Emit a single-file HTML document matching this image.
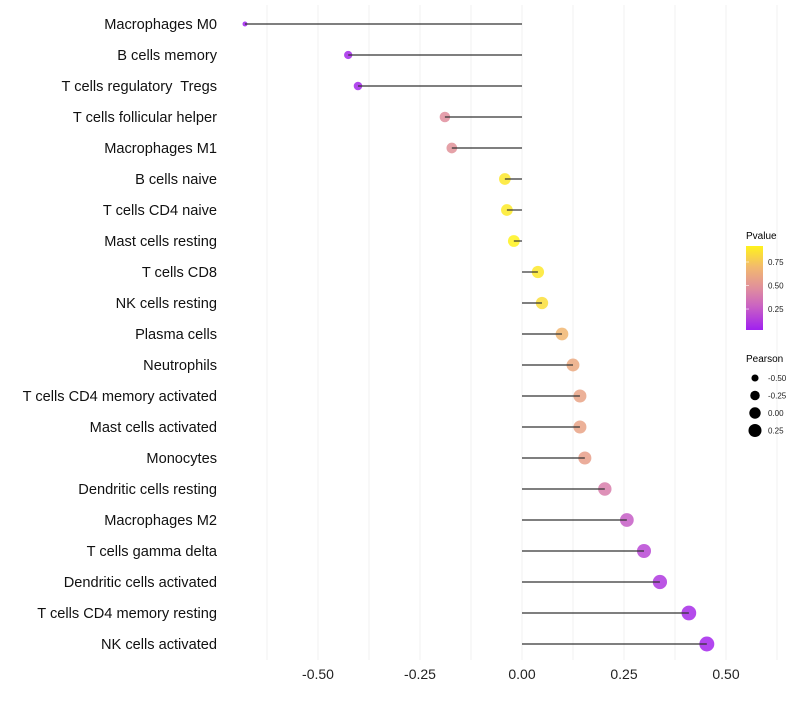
<!DOCTYPE html>
<html><head><meta charset="utf-8"><style>
body{margin:0;background:#fff;font-family:"Liberation Sans",sans-serif}
text{white-space:pre}
</style></head><body>
<svg id="chart" width="800" height="700" xmlns="http://www.w3.org/2000/svg" font-family="Liberation Sans, sans-serif">
<defs><linearGradient id="pg" x1="0" y1="1" x2="0" y2="0">
<stop offset="0" stop-color="#a020f0"/><stop offset="0.3" stop-color="#cc66c0"/><stop offset="0.5" stop-color="#e08f9c"/><stop offset="0.75" stop-color="#f2b96e"/><stop offset="1" stop-color="#fff21c"/>
</linearGradient></defs>
<g id="grid"></g>
<g id="marks"></g>
<g id="labels"></g>
<g>
<text x="746" y="239" font-size="10">Pvalue</text>
<rect x="746" y="246" width="17" height="84" fill="url(#pg)"/>
<g id="cbticks"></g>
</g>
<g id="sizeleg">
<text x="746" y="362" font-size="10">Pearson</text>
</g>
</svg>
<script>
const categories=["Macrophages M0","B cells memory","T cells regulatory  Tregs","T cells follicular helper","Macrophages M1","B cells naive","T cells CD4 naive","Mast cells resting","T cells CD8","NK cells resting","Plasma cells","Neutrophils","T cells CD4 memory activated","Mast cells activated","Monocytes","Dendritic cells resting","Macrophages M2","T cells gamma delta","Dendritic cells activated","T cells CD4 memory resting","NK cells activated"];
const pearson=[-0.679,-0.426,-0.402,-0.189,-0.172,-0.042,-0.037,-0.020,0.039,0.049,0.098,0.125,0.142,0.142,0.154,0.203,0.257,0.299,0.338,0.409,0.453];
const pvalue=[0.03,0.06,0.06,0.47,0.49,0.88,0.89,0.92,0.88,0.84,0.68,0.61,0.58,0.58,0.56,0.40,0.26,0.18,0.12,0.07,0.05];
const xTicks=[-0.5,-0.25,0,0.25,0.5];
const xTickLabels=["-0.50","-0.25","0.00","0.25","0.50"];
const cbTicks=[0.25,0.5,0.75];
const cbTickLabels=["0.25","0.50","0.75"];
const sizeLegend=[-0.5,-0.25,0,0.25];
const sizeLegendLabels=["-0.50","-0.25","0.00","0.25"];
const NS="http://www.w3.org/2000/svg";
const x=v=>522+v*408;
const y=i=>24+i*31;
const r=v=>Math.sqrt(Math.max(2.5,36+44*v));
const pMin=0.027,pMax=0.92;
const cbY=p=>330-(p-pMin)/(pMax-pMin)*84;
const stops=[[0,[160,32,240]],[0.3,[204,102,192]],[0.5,[224,143,156]],[0.75,[242,185,110]],[1,[255,242,28]]];
function col(p){let t=Math.min(1,Math.max(0,(p-pMin)/(pMax-pMin)));for(let k=1;k<stops.length;k++){if(t<=stops[k][0]){const a=stops[k-1],b=stops[k],f=(t-a[0])/(b[0]-a[0]);return "rgb("+a[1].map((c,j)=>Math.round(c+(b[1][j]-c)*f)).join(",")+")";}}return "rgb(255,242,28)";}
function mk(tag,attrs,parent,txt){const e=document.createElementNS(NS,tag);for(const k in attrs)e.setAttribute(k,attrs[k]);if(txt!==undefined)e.textContent=txt;parent.appendChild(e);return e;}
const grid=document.getElementById('grid'),marks=document.getElementById('marks'),labels=document.getElementById('labels');
for(let v=-0.625;v<=0.626;v+=0.125){const g=mk('line',{x1:x(v),x2:x(v),y1:5,y2:660,stroke:'#f0f0f0','stroke-width':1},grid);

}
xTicks.forEach((v,i)=>{const t=mk('text',{x:x(v),y:679,'font-size':14,'text-anchor':'middle',fill:'#222'},labels,xTickLabels[i]);

});
categories.forEach((c,i)=>{
const t=mk('text',{x:217,y:y(i)+5,'font-size':14.6,'text-anchor':'end',fill:'#111'},labels,c);


const p=mk('circle',{cx:x(pearson[i]),cy:y(i),r:r(pearson[i]),fill:col(pvalue[i]),'fill-opacity':0.85},marks);


const s=mk('line',{x1:x(0),x2:x(pearson[i]),y1:y(i),y2:y(i),stroke:'#333','stroke-width':1.2},marks);

});
const cbt=document.getElementById('cbticks');
cbTicks.forEach((v,i)=>{const t=mk('text',{x:768,y:cbY(v)+3,'font-size':8,fill:'#222'},cbt,cbTickLabels[i]);


const l=mk('line',{x1:746,x2:749,y1:cbY(v),y2:cbY(v),stroke:'#fff','stroke-width':0.6},cbt);

});
const sl=document.getElementById('sizeleg');
sizeLegend.forEach((v,i)=>{const cy=378+i*17.5;
const c=mk('circle',{cx:755,cy:cy,r:r(v)*0.95,fill:'#000'},sl);


const t=mk('text',{x:768,y:cy+3,'font-size':8,fill:'#222'},sl,sizeLegendLabels[i]);

});
</script>
</body></html>
